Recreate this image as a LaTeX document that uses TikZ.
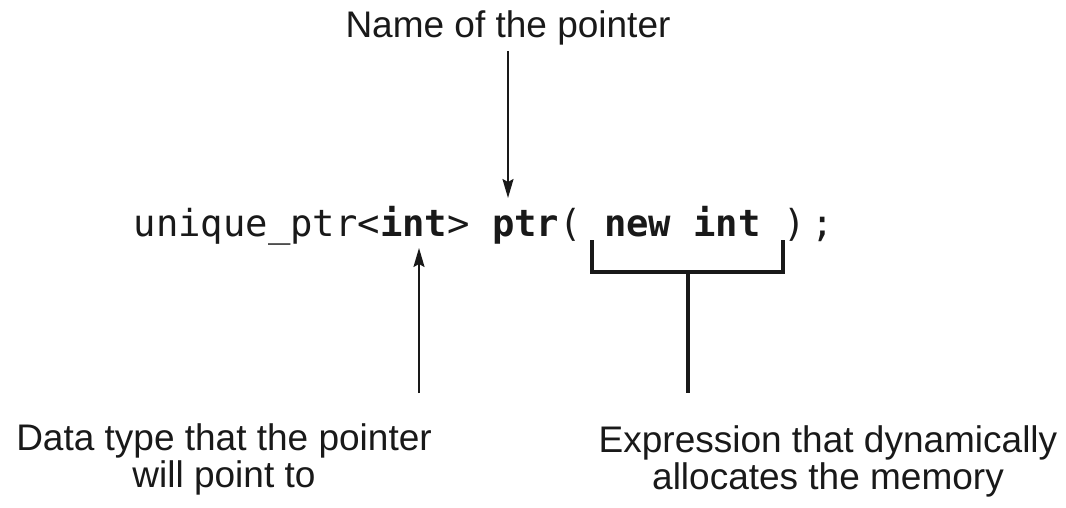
\documentclass[tikz,border=0pt]{standalone}
\usepackage{fontspec}
\setmainfont{Liberation Sans}
\setmonofont{DejaVu Sans Mono}
\usetikzlibrary{arrows.meta}
\begin{document}
\begin{tikzpicture}[x=1pt,y=-1pt,
  lbl/.style={inner sep=0pt,font=\fontsize{37}{37}\selectfont,align=center,text=black!90},
  code/.style={inner sep=0pt,font=\fontsize{37.2}{40}\ttfamily,text=black!90},
  arr/.style={line width=2pt,draw=black!90,-{Stealth[length=19pt,width=11pt,inset=3pt]}},
  brk/.style={line width=3.5pt,draw=black!90}]
\useasboundingbox (0,0) rectangle (1066,508);
\node[lbl,anchor=base] (name) at (508,38) {Name of the pointer};
\node[code,anchor=base west] (code) at (133.5,236) {unique\_ptr<\textbf{int}> \textbf{ptr}(\textbf{ new int })\,;};
\node[lbl,anchor=base] (dtype) at (224,487) {Data type that the pointer\\will point to};
\node[lbl,anchor=base] (expr) at (828,489) {Expression that dynamically\\allocates the memory};
\coordinate (a1s) at (508,51);
\coordinate (a1e) at (508,198);
\coordinate (a2s) at (419,393);
\coordinate (a2e) at (419,248);
\coordinate (bl) at (592,240);
\coordinate (br) at (783,240);
\coordinate (bm) at (688,272);
\coordinate (bs) at (688,393);
\draw[arr] (a1s) -- (a1e);
\draw[arr] (a2s) -- (a2e);
\draw[brk] (bl) |- (bm) -| (br);
\draw[brk] (bm) -- (bs);
\end{tikzpicture}
\end{document}
